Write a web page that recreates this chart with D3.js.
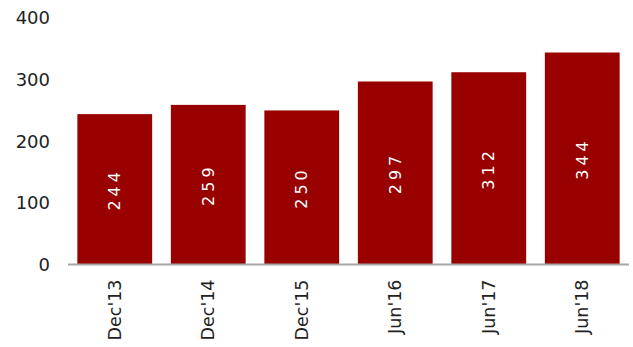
<!DOCTYPE html>
<html>
<head>
<meta charset="utf-8">
<script src="https://cdn.jsdelivr.net/npm/d3@7"></script>
<style>
  html, body { margin: 0; padding: 0; background: #fff; }
  svg { display: block; font-family: "DejaVu Sans", Verdana, sans-serif; }
</style>
</head>
<body>
<svg id="chart" width="633" height="347"></svg>
<script>
// Periods and values
const categories = ["Dec'13", "Dec'14", "Dec'15", "Jun'16", "Jun'17", "Jun'18"];
const values = [244, 259, 250, 297, 312, 344];
const yTicks = [0, 100, 200, 300, 400];

const svg = d3.select("#chart");
const margin = { left: 68, right: 4, top: 18, bottom: 82 };
const width = 633, height = 347;

const x = d3.scaleBand()
  .domain(categories)
  .range([margin.left, width - margin.right])
  .paddingInner(0.2)
  .paddingOuter(0.1);

const y = d3.scaleLinear()
  .domain([0, 400])
  .range([height - margin.bottom - 0.5, margin.top]);

// Bars
svg.append("g").selectAll("rect")
  .data(values)
  .join("rect")
  .attr("x", (d, i) => x(categories[i]))
  .attr("y", d => y(d))
  .attr("width", x.bandwidth())
  .attr("height", d => y(0) - y(d))
  .attr("fill", "#990000");

// Value labels inside bars, rotated
svg.append("g").selectAll("text")
  .data(values)
  .join("text")
  .attr("transform", (d, i) => {
    const cx = x(categories[i]) + x.bandwidth() / 2;
    const cy = (y(d) + y(0)) / 2;
    return `translate(${cx},${cy}) rotate(-90)`;
  })
  .attr("text-anchor", "middle")
  .attr("dominant-baseline", "central")
  .attr("fill", "#fff")
  .style("font-size", "16px")
  .style("letter-spacing", "4px")
  .text(d => d);

// Y axis (labels only)
const yAxis = svg.append("g")
  .attr("transform", `translate(${margin.left},0)`)
  .call(d3.axisLeft(y).tickValues(yTicks).tickSize(0).tickPadding(18));
yAxis.select(".domain").remove();
yAxis.selectAll("text")
  .attr("fill", "#222")
  .style("font-size", "18px")
  .style("font-family", "\"DejaVu Sans\", Verdana, sans-serif");

// X axis with rotated labels
const xAxis = svg.append("g")
  .attr("transform", `translate(0,${y(0)})`)
  .call(d3.axisBottom(x).tickSize(0).tickPadding(0));
xAxis.select(".domain")
  .attr("stroke", "#a6a6a6")
  .attr("stroke-width", 2)
  .attr("d", `M${margin.left},0H${width - margin.right}`);
xAxis.selectAll("text")
  .attr("transform", "rotate(-90)")
  .attr("text-anchor", "end")
  .attr("dominant-baseline", "central")
  .attr("x", -15)
  .attr("y", 0)
  .attr("dy", null)
  .attr("fill", "#222")
  .style("font-size", "17.5px")
  .style("font-family", "\"DejaVu Sans\", Verdana, sans-serif");
</script>
</body>
</html>
